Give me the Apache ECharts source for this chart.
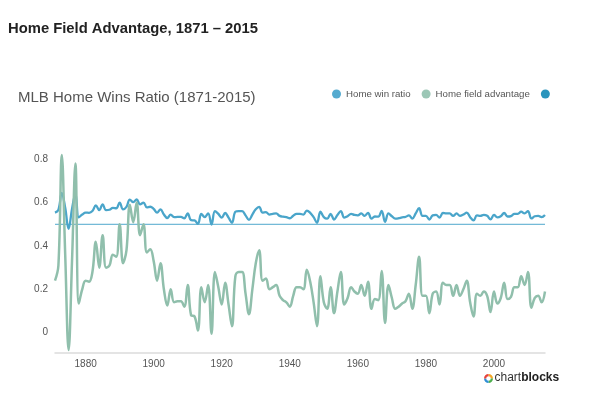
<!DOCTYPE html>
<html>
<head>
<meta charset="utf-8">
<script src="https://cdn.jsdelivr.net/npm/echarts@6/dist/echarts.min.js"></script>
<style>
html,body{margin:0;padding:0;background:#fff;}
#chart{width:590px;height:393px;}
</style>
</head>
<body>
<div id="chart"></div>
<script>
const years = [
1871,1872,1873,1874,1875,1876,1877,1878,1879,1880,
1881,1882,1883,1884,1885,1886,1887,1888,1889,1890,
1891,1892,1893,1894,1895,1896,1897,1898,1899,1900,
1901,1902,1903,1904,1905,1906,1907,1908,1909,1910,
1911,1912,1913,1914,1915,1916,1917,1918,1919,1920,
1921,1922,1923,1924,1925,1926,1927,1928,1929,1930,
1931,1932,1933,1934,1935,1936,1937,1938,1939,1940,
1941,1942,1943,1944,1945,1946,1947,1948,1949,1950,
1951,1952,1953,1954,1955,1956,1957,1958,1959,1960,
1961,1962,1963,1964,1965,1966,1967,1968,1969,1970,
1971,1972,1973,1974,1975,1976,1977,1978,1979,1980,
1981,1982,1983,1984,1985,1986,1987,1988,1989,1990,
1991,1992,1993,1994,1995,1996,1997,1998,1999,2000,
2001,2002,2003,2004,2005,2006,2007,2008,2009,2010,
2011,2012,2013,2014,2015];

const homeWinRatio = [
0.554,0.567,0.645,0.576,0.479,0.571,0.640,0.532,0.545,0.554,
0.553,0.561,0.587,0.565,0.592,0.565,0.567,0.576,0.574,0.600,
0.569,0.580,0.614,0.602,0.615,0.592,0.600,0.578,0.581,0.571,
0.554,0.569,0.545,0.529,0.545,0.533,0.534,0.534,0.528,0.550,
0.519,0.518,0.502,0.548,0.533,0.550,0.499,0.561,0.548,0.531,
0.552,0.531,0.507,0.558,0.561,0.561,0.541,0.520,0.545,0.569,
0.580,0.554,0.556,0.545,0.548,0.550,0.539,0.535,0.533,0.528,
0.539,0.548,0.548,0.545,0.563,0.553,0.533,0.507,0.558,0.533,
0.526,0.548,0.522,0.543,0.561,0.531,0.537,0.548,0.543,0.541,
0.550,0.539,0.553,0.526,0.536,0.535,0.562,0.511,0.550,0.537,
0.526,0.528,0.532,0.534,0.541,0.526,0.550,0.574,0.539,0.539,
0.522,0.541,0.543,0.531,0.552,0.550,0.550,0.539,0.550,0.539,
0.545,0.554,0.533,0.518,0.541,0.539,0.543,0.539,0.523,0.543,
0.532,0.537,0.552,0.536,0.538,0.548,0.548,0.558,0.550,0.561,
0.527,0.537,0.539,0.533,0.543];

const homeFieldAdvantage = [
0.24,0.31,0.82,0.36,-0.08,0.33,0.78,0.135,0.20,0.24,
0.235,0.28,0.42,0.30,0.45,0.30,0.31,0.36,0.35,0.50,
0.32,0.38,0.59,0.51,0.60,0.45,0.50,0.37,0.385,0.33,
0.24,0.32,0.20,0.125,0.20,0.14,0.145,0.145,0.12,0.22,
0.08,0.075,0.01,0.21,0.14,0.22,-0.005,0.28,0.21,0.13,
0.23,0.13,0.03,0.26,0.28,0.28,0.18,0.085,0.20,0.32,
0.38,0.24,0.25,0.20,0.21,0.22,0.17,0.15,0.14,0.12,
0.17,0.21,0.21,0.20,0.29,0.235,0.14,0.03,0.26,0.14,
0.11,0.21,0.09,0.19,0.28,0.13,0.16,0.21,0.19,0.18,
0.22,0.17,0.235,0.11,0.155,0.15,0.285,0.045,0.22,0.16,
0.11,0.12,0.135,0.145,0.18,0.11,0.22,0.35,0.17,0.17,
0.09,0.18,0.19,0.13,0.23,0.22,0.22,0.17,0.22,0.17,
0.20,0.24,0.14,0.075,0.18,0.17,0.19,0.17,0.095,0.19,
0.135,0.16,0.23,0.155,0.165,0.21,0.21,0.26,0.22,0.28,
0.115,0.16,0.17,0.14,0.19];

const baselineYears = [1871, 2015];
const baselineValues = [0.5, 0.5];

const xTickLabels = [1880, 1900, 1920, 1940, 1960, 1980, 2000];
const yTickLabels = [0, 0.2, 0.4, 0.6, 0.8];

const seriesNames = ['Home win ratio', 'Home field advantage', ' '];

const chart = echarts.init(document.getElementById('chart'), null, {renderer: 'canvas'});
const FONT = '"Liberation Sans", Arial, Helvetica, sans-serif';

chart.setOption({
  animation: false,
  backgroundColor: '#ffffff',
  textStyle: {fontFamily: FONT},
  title: [
    {text: 'Home Field Advantage, 1871 \u2013 2015', left: 8, top: 21, padding: 0,
     textStyle: {fontFamily: FONT, fontSize: 14.8, fontWeight: 'bold', color: '#222222'}},
    {text: 'MLB Home Wins Ratio (1871-2015)', left: 18, top: 90, padding: 0,
     textStyle: {fontFamily: FONT, fontSize: 15, fontWeight: 'normal', color: '#555555'}}
  ],
  legend: {
    data: seriesNames,
    left: 332, top: 89, padding: 0,
    icon: 'circle', itemWidth: 9, itemHeight: 9, itemGap: 11,
    textStyle: {fontFamily: FONT, fontSize: 9.7, color: '#555555'}
  },
  grid: {left: 55, right: 45, top: 137.6, bottom: 40.4, containLabel: false},
  xAxis: {
    type: 'value', min: 1871, max: 2015,
    axisLine: {show: true, onZero: false, lineStyle: {color: '#dcdcdc', width: 1.5}},
    axisTick: {show: false},
    splitLine: {show: false},
    axisLabel: {customValues: xTickLabels, color: '#555555', fontSize: 10, margin: 7,
                fontFamily: FONT, formatter: v => String(v)}
  },
  yAxis: {
    type: 'value', min: -0.092, max: 0.9,
    axisLine: {show: false}, axisTick: {show: false}, splitLine: {show: false},
    axisLabel: {customValues: yTickLabels, color: '#555555', fontSize: 10, margin: 7,
                fontFamily: FONT, formatter: v => String(v)}
  },
  series: [
    {name: seriesNames[0], type: 'line', smooth: 0.4, showSymbol: false,
     data: years.map((y, i) => [y, homeWinRatio[i]]),
     itemStyle: {color: '#55abd0'}, lineStyle: {color: '#4aa5ca', width: 2.3}, z: 2},
    {name: seriesNames[1], type: 'line', smooth: 0.4, showSymbol: false,
     data: years.map((y, i) => [y, homeFieldAdvantage[i]]),
     itemStyle: {color: '#9cc7b6'}, lineStyle: {color: '#90bfac', width: 2.5}, z: 3},
    {name: seriesNames[2], type: 'line', showSymbol: false,
     data: baselineYears.map((y, i) => [y, baselineValues[i]]),
     itemStyle: {color: '#2a95bd'}, lineStyle: {color: '#4ea8cc', width: 1}, z: 1}
  ],
  graphic: [
    {type: 'group', left: 484, top: 372, children: [
      {type: 'sector', shape: {cx: 4.5, cy: 8, r: 4.5, r0: 2.3, startAngle: -Math.PI/2, endAngle: 0}, style: {fill: '#f5a623'}},
      {type: 'sector', shape: {cx: 4.5, cy: 8, r: 4.5, r0: 2.3, startAngle: 0, endAngle: Math.PI/2}, style: {fill: '#4cae4c'}},
      {type: 'sector', shape: {cx: 4.5, cy: 8, r: 4.5, r0: 2.3, startAngle: Math.PI/2, endAngle: Math.PI}, style: {fill: '#2d8ed6'}},
      {type: 'sector', shape: {cx: 4.5, cy: 8, r: 4.5, r0: 2.3, startAngle: Math.PI, endAngle: Math.PI*1.5}, style: {fill: '#e8413a'}},
      {type: 'text', x: 10.5, y: 1.5, style: {
        text: '{a|chart}{b|blocks}',
        rich: {
          a: {fontFamily: FONT, fontSize: 12, fontWeight: 'normal', fill: '#333333'},
          b: {fontFamily: FONT, fontSize: 12, fontWeight: 'bold', fill: '#222222'}
        }
      }}
    ]}
  ]
});
</script>
</body>
</html>
